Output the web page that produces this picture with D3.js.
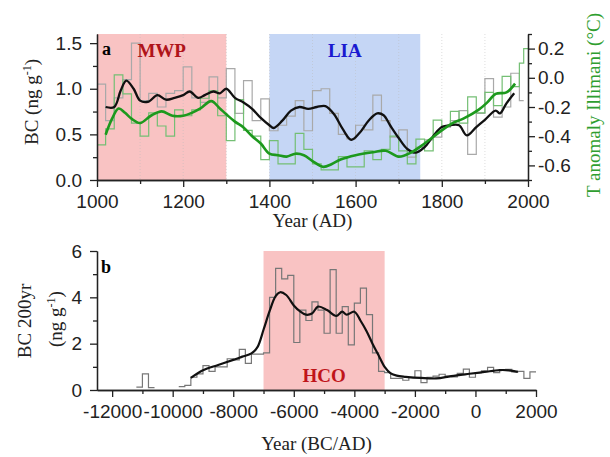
<!DOCTYPE html>
<html>
<head>
<meta charset="utf-8">
<script src="https://cdn.jsdelivr.net/npm/d3@7"></script>
<style>
  body { margin: 0; background: #fff; }
  svg { font-family: "Liberation Serif", "Times New Roman", serif; }
  .axis text { font-size: 19px; fill: #222; }
  .axis path, .axis line { stroke: #222; stroke-width: 1.3; }
</style>
</head>
<body>
<div id="chart"></div>
<script>

// ---- panel a data (1000-2000 AD) ----
// raw BC, 20 yr steps (left axis)
const BC_RAW_YEARS = [1000,1020,1040,1060,1080,1100,1120,1140,1160,1180,
                      1200,1220,1240,1260,1280,1300,1320,1340,1360,1380,
                      1400,1420,1440,1460,1480,1500,1520,1540,1560,1580,
                      1600,1620,1640,1660,1680,1700,1720,1740,1760,1780,
                      1800,1820,1840,1860,1880,1900,1920,1940,1960,1980];
const BC_RAW = [1.05,0.65,0.9,1.1,1.5,0.87,0.95,0.8,0.95,0.98,
                1.24,0.9,0.85,1.13,0.9,1.22,0.73,1.09,0.65,0.89,
                0.54,0.6,0.7,0.87,0.54,0.98,1.0,0.73,0.5,0.45,
                0.6,0.55,0.93,0.65,0.47,0.55,0.25,0.36,0.44,0.47,
                0.58,0.65,0.76,0.28,0.73,1.11,0.69,0.8,1.17,0.87];
const BC_RAW_END = 1990;

// raw T anomaly Illimani (right axis)
const T_RAW_YEARS = [1000,1020,1040,1060,1080,1100,1120,1140,1160,1180,
                     1200,1220,1240,1260,1280,1300,1320,1340,1360,1380,
                     1400,1420,1440,1460,1480,1500,1520,1540,1560,1580,
                     1600,1620,1640,1660,1680,1700,1720,1740,1760,1780,
                     1800,1820,1840,1860,1880,1900,1920,1940,1960,1980,1990];
const T_RAW = [-0.46,-0.35,0.02,-0.11,-0.31,-0.4,-0.24,-0.33,-0.4,-0.22,
               -0.26,-0.22,-0.14,-0.09,-0.26,-0.43,-0.15,-0.36,-0.4,-0.56,
               -0.43,-0.59,-0.59,-0.38,-0.49,-0.59,-0.63,-0.63,-0.54,-0.61,
               -0.61,-0.5,-0.56,-0.49,-0.4,-0.5,-0.59,-0.42,-0.5,-0.29,
               -0.33,-0.23,-0.31,-0.13,-0.24,-0.1,-0.19,0.01,-0.06,0.1,0.2];
const T_RAW_END = 2000;

// smoothed BC (black)
const BC_SMOOTH_YEARS = [1020,1040,1055,1068,1085,1100,1120,1140,1160,1180,1200,1215,1235,1250,1270,1285,1300,
                         1320,1340,1360,1380,1400,1410,1430,1450,1470,1490,1510,1530,1550,1570,1590,1610,
                         1630,1650,1665,1680,1700,1720,1740,1760,1780,1800,1820,1840,1858,1880,1900,1925,
                         1935,1950,1968];
const BC_SMOOTH = [0.8,0.8,0.98,1.09,1.0,0.87,0.86,0.93,0.88,0.9,0.93,0.97,0.9,0.93,0.97,0.95,1.0,
                   0.9,0.85,0.78,0.68,0.6,0.57,0.65,0.76,0.8,0.78,0.8,0.81,0.72,0.56,0.44,0.52,
                   0.65,0.73,0.71,0.6,0.46,0.34,0.3,0.36,0.48,0.58,0.6,0.6,0.49,0.58,0.66,0.76,
                   0.73,0.84,0.95];

// smoothed T (green)
const T_SMOOTH_YEARS = [1020,1035,1050,1065,1080,1100,1125,1150,1175,1200,1220,1240,1265,1285,1300,1320,1340,
                        1360,1380,1400,1420,1440,1460,1480,1500,1525,1545,1565,1600,1640,1670,1700,1730,
                        1760,1800,1825,1850,1885,1905,1925,1950,1970];
const T_SMOOTH = [-0.39,-0.28,-0.21,-0.24,-0.28,-0.31,-0.26,-0.23,-0.26,-0.26,-0.24,-0.21,-0.16,-0.21,-0.25,-0.3,-0.34,
                  -0.4,-0.45,-0.52,-0.53,-0.54,-0.52,-0.53,-0.57,-0.61,-0.59,-0.56,-0.53,-0.51,-0.5,-0.54,-0.51,
                  -0.45,-0.36,-0.31,-0.28,-0.22,-0.17,-0.11,-0.1,-0.04];

// ---- panel b data (BC 200yr) ----
const B_RAW_YEARS = [-11200,-11000,-10800,-10600,
                     -9800,-9600,-9400,-9200,-9000,-8800,-8600,-8400,-8200,-8000,-7800,-7600,-7400,-7200,
                     -7000,-6800,-6600,-6400,-6200,-6000,-5800,-5600,-5400,-5200,-5000,-4800,-4600,-4400,
                     -4200,-4000,-3800,-3600,-3400,-3200,-3000,-2800,-2600,-2400,-2200,-2000,-1800,-1600,
                     -1400,-1200,-1000,-800,-600,-400,-200,0,200,400,600,800,1000,1200,1400,1600,1800];
const B_RAW = [0.12,0.7,0.1,null,
               0.15,0.2,0.55,0.7,1.05,0.8,1.0,1.0,1.35,1.3,1.75,1.15,1.55,1.55,
               1.6,4.0,5.25,4.8,4.95,2.05,3.45,3.0,3.8,3.45,2.45,5.2,2.45,3.6,
               1.95,3.75,4.4,3.25,1.6,0.8,0.75,0.5,0.5,0.42,0.55,0.83,0.32,0.55,
               0.6,0.68,0.6,0.57,0.72,0.9,0.55,0.75,0.83,0.98,0.75,0.87,0.89,0.78,0.8,0.5,0.78];
const B_RAW_END = 2000;

const B_SMOOTH_YEARS = [-9400,-9000,-8500,-8000,-7700,-7400,-7200,-7000,-6800,-6600,-6450,-6250,-6000,-5800,
                        -5600,-5400,-5200,-4900,-4600,-4400,-4250,-4000,-3800,-3600,-3400,-3200,-3000,-2800,
                        -2600,-2300,-1800,-1300,-800,-200,300,800,1100,1400];
const B_SMOOTH = [0.52,0.85,1.08,1.3,1.44,1.58,1.85,2.6,3.4,4.05,4.22,4.1,3.65,3.4,
                  3.25,3.3,3.6,3.45,3.2,3.38,3.25,3.38,3.0,2.55,2.0,1.5,1.0,0.72,
                  0.62,0.57,0.52,0.5,0.6,0.7,0.78,0.86,0.85,0.78];

// tick values
const A_X_MAJOR = [1000,1200,1400,1600,1800,2000];
const A_X_MINOR = [1100,1300,1500,1700,1900];
const A_Y_MAJOR = [0,0.5,1.0,1.5];
const A_Y_MINOR = [0.25,0.75,1.25];
const A_T_MAJOR = [-0.6,-0.4,-0.2,0.0,0.2];
const A_T_MINOR = [-0.7,-0.5,-0.3,-0.1,0.1,0.3];
const B_X_MAJOR = [-12000,-10000,-8000,-6000,-4000,-2000,0,2000];
const B_X_MINOR = [-11000,-9000,-7000,-5000,-3000,-1000,1000];
const B_Y_MAJOR = [0,2,4,6];
const B_Y_MINOR = [1,3,5];

// shaded periods
const PERIODS_A = [{name: "MWP", from: 1000, to: 1300, fill: "#f9c3c3", color: "#b0141a"},
                   {name: "LIA", from: 1400, to: 1750, fill: "#c5d6f5", color: "#1a1ad0"}];
const PERIODS_B = [{name: "HCO", from: -7000, to: -3000, fill: "#f9c3c3", color: "#c0141a"}];


// frame constants
const FRAME_WIDTH = 610;
const FRAME_HEIGHT = 457;
const A = {left: 97, right: 528, top: 34, bottom: 180};
const B = {left: 97, right: 536, top: 251, bottom: 390};

const FRAME = d3.select("#chart")
                .append("svg")
                  .attr("width", FRAME_WIDTH)
                  .attr("height", FRAME_HEIGHT);

const fmt1 = (d) => d3.format(".1f")(d).replace("\u2212", "-");
const fmt0 = (d) => String(d);

// scales
const X_A = d3.scaleLinear().domain([1000, 2000]).range([A.left, A.right]);
const Y_BC = d3.scaleLinear().domain([0, 1.6]).range([A.bottom, A.top]);
const Y_T = d3.scaleLinear().domain([-0.7, 0.3]).range([A.bottom, A.top]);
const X_B = d3.scaleLinear().domain([-12500, 2000]).range([B.left, B.right]);
const Y_B = d3.scaleLinear().domain([0, 6]).range([B.bottom, B.top]);

// build step points, null values break the line
function stepPoints(years, vals, endYear) {
  const pts = [];
  years.forEach((y, i) => {
    const next = i < years.length - 1 ? years[i + 1] : endYear;
    if (vals[i] == null) { pts.push({x: y, v: null}); return; }
    pts.push({x: y, v: vals[i]});
    pts.push({x: next, v: vals[i]});
  });
  return pts;
}

function drawLine(g, xs, ys, years, vals, color, width, curve) {
  const line = d3.line()
                 .defined((d) => d.v != null)
                 .x((d) => xs(d.x))
                 .y((d) => ys(d.v))
                 .curve(curve || d3.curveLinear);
  const data = years.map((y, i) => ({x: y, v: vals[i]}));
  g.append("path")
     .datum(data)
     .attr("d", line)
     .attr("fill", "none")
     .attr("stroke", color)
     .attr("stroke-width", width)
     .attr("stroke-linejoin", "round");
}

function drawStep(g, xs, ys, years, vals, endYear, color, width) {
  const line = d3.line()
                 .defined((d) => d.v != null)
                 .x((d) => xs(d.x))
                 .y((d) => ys(d.v));
  g.append("path")
     .datum(stepPoints(years, vals, endYear))
     .attr("d", line)
     .attr("fill", "none")
     .attr("stroke", color)
     .attr("stroke-width", width);
}


// ================= panel a =================
const PA = FRAME.append("g");

PA.selectAll(".shade")
    .data(PERIODS_A)
    .enter()
    .append("rect")
      .attr("x", (d) => X_A(d.from))
      .attr("width", (d) => X_A(d.to) - X_A(d.from))
      .attr("y", A.top)
      .attr("height", A.bottom - A.top)
      .attr("fill", (d) => d.fill);

// faint dotted grid
PA.selectAll(".grid")
    .data(A_X_MINOR.concat(A_X_MAJOR.slice(1, -1)))
    .enter()
    .append("line")
      .attr("x1", (d) => X_A(d)).attr("x2", (d) => X_A(d))
      .attr("y1", A.top).attr("y2", A.bottom)
      .attr("stroke", "#bbb")
      .attr("stroke-width", 0.8)
      .attr("stroke-dasharray", "1,2")
      .attr("opacity", 0.6);

drawStep(PA, X_A, Y_BC, BC_RAW_YEARS, BC_RAW, BC_RAW_END, "#a9a9a9", 1.2);
drawStep(PA, X_A, Y_T, T_RAW_YEARS, T_RAW, T_RAW_END, "#74bf74", 1.2);
drawLine(PA, X_A, Y_BC, BC_SMOOTH_YEARS, BC_SMOOTH, "#111", 2.3, d3.curveCatmullRom);
drawLine(PA, X_A, Y_T, T_SMOOTH_YEARS, T_SMOOTH, "#1d991d", 2.6, d3.curveCatmullRom);

PA.selectAll(".plabel")
    .data(PERIODS_A)
    .enter()
    .append("text")
      .attr("x", (d) => (X_A(d.from) + X_A(d.to)) / 2)
      .attr("y", 57)
      .attr("text-anchor", "middle")
      .attr("font-size", "19px")
      .attr("font-weight", "bold")
      .attr("fill", (d) => d.color)
      .text((d) => d.name);

PA.append("text")
    .attr("x", 102).attr("y", 55)
    .attr("font-size", "18px").attr("font-weight", "bold")
    .text("a");

// axes a
PA.append("g").attr("class", "axis")
    .attr("transform", "translate(0," + A.bottom + ")")
    .call(d3.axisBottom(X_A).tickValues(A_X_MAJOR).tickFormat(fmt0)
            .tickSize(7).tickSizeOuter(0).tickPadding(8));
PA.append("g").attr("class", "axis")
    .attr("transform", "translate(0," + A.bottom + ")")
    .call(d3.axisBottom(X_A).tickValues(A_X_MINOR).tickFormat("")
            .tickSize(4).tickSizeOuter(0));

PA.append("g").attr("class", "axis")
    .attr("transform", "translate(" + A.left + ",0)")
    .call(d3.axisLeft(Y_BC).tickValues(A_Y_MAJOR).tickFormat(fmt1)
            .tickSize(7).tickSizeOuter(0).tickPadding(8));
PA.append("g").attr("class", "axis")
    .attr("transform", "translate(" + A.left + ",0)")
    .call(d3.axisLeft(Y_BC).tickValues(A_Y_MINOR).tickFormat("")
            .tickSize(4).tickSizeOuter(0));

PA.append("g").attr("class", "axis")
    .attr("transform", "translate(" + A.right + ",0)")
    .call(d3.axisRight(Y_T).tickValues(A_T_MAJOR).tickFormat(fmt1)
            .tickSize(7).tickSizeOuter(0).tickPadding(3));
PA.append("g").attr("class", "axis")
    .attr("transform", "translate(" + A.right + ",0)")
    .call(d3.axisRight(Y_T).tickValues(A_T_MINOR).tickFormat("")
            .tickSize(4).tickSizeOuter(0));

// axis titles a
PA.append("text")
    .attr("x", (A.left + A.right) / 2).attr("y", 227)
    .attr("text-anchor", "middle").attr("font-size", "19px").attr("fill", "#222")
    .text("Year (AD)");

const ylabA = PA.append("text")
    .attr("transform", "translate(38,102) rotate(-90)")
    .attr("text-anchor", "middle").attr("font-size", "19px").attr("fill", "#222");
ylabA.append("tspan").text("BC (ng g");
ylabA.append("tspan").attr("font-size", "12px").attr("dy", "-7").text("-1");
ylabA.append("tspan").attr("dy", "7").text(")");

PA.append("text")
    .attr("transform", "translate(600,105) rotate(-90)")
    .attr("text-anchor", "middle").attr("font-size", "19px").attr("fill", "#2f9e2f")
    .text("T anomaly Illimani (\u00B0C)");


// ================= panel b =================
const PB = FRAME.append("g");

PB.selectAll(".shade")
    .data(PERIODS_B)
    .enter()
    .append("rect")
      .attr("x", (d) => X_B(d.from))
      .attr("width", (d) => X_B(d.to) - X_B(d.from))
      .attr("y", B.top)
      .attr("height", B.bottom - B.top)
      .attr("fill", (d) => d.fill);

drawStep(PB, X_B, Y_B, B_RAW_YEARS, B_RAW, B_RAW_END, "#777", 1.2);
drawLine(PB, X_B, Y_B, B_SMOOTH_YEARS, B_SMOOTH, "#111", 2.2, d3.curveCatmullRom);

PB.selectAll(".plabel")
    .data(PERIODS_B)
    .enter()
    .append("text")
      .attr("x", (d) => (X_B(d.from) + X_B(d.to)) / 2)
      .attr("y", 382)
      .attr("text-anchor", "middle")
      .attr("font-size", "19px")
      .attr("font-weight", "bold")
      .attr("fill", (d) => d.color)
      .text((d) => d.name);

PB.append("text")
    .attr("x", 101).attr("y", 273)
    .attr("font-size", "18px").attr("font-weight", "bold")
    .text("b");

PB.append("g").attr("class", "axis")
    .attr("transform", "translate(0," + B.bottom + ")")
    .call(d3.axisBottom(X_B).tickValues(B_X_MAJOR).tickFormat(fmt0)
            .tickSize(7).tickSizeOuter(0).tickPadding(8));
PB.append("g").attr("class", "axis")
    .attr("transform", "translate(0," + B.bottom + ")")
    .call(d3.axisBottom(X_B).tickValues(B_X_MINOR).tickFormat("")
            .tickSize(4).tickSizeOuter(0));

PB.append("g").attr("class", "axis")
    .attr("transform", "translate(" + B.left + ",0)")
    .call(d3.axisLeft(Y_B).tickValues(B_Y_MAJOR).tickFormat(fmt0)
            .tickSize(7).tickSizeOuter(0).tickPadding(8));
PB.append("g").attr("class", "axis")
    .attr("transform", "translate(" + B.left + ",0)")
    .call(d3.axisLeft(Y_B).tickValues(B_Y_MINOR).tickFormat("")
            .tickSize(4).tickSizeOuter(0));

PB.append("text")
    .attr("x", (B.left + B.right) / 2).attr("y", 450)
    .attr("text-anchor", "middle").attr("font-size", "19px").attr("fill", "#222")
    .text("Year (BC/AD)");

PB.append("text")
    .attr("transform", "translate(31,321) rotate(-90)")
    .attr("text-anchor", "middle").attr("font-size", "19px").attr("fill", "#222")
    .text("BC 200yr");

const ylabB = PB.append("text")
    .attr("transform", "translate(62,319) rotate(-90)")
    .attr("text-anchor", "middle").attr("font-size", "19px").attr("fill", "#222");
ylabB.append("tspan").text("(ng g");
ylabB.append("tspan").attr("font-size", "12px").attr("dy", "-7").text("-1");
ylabB.append("tspan").attr("dy", "7").text(")");

</script>
</body>
</html>
